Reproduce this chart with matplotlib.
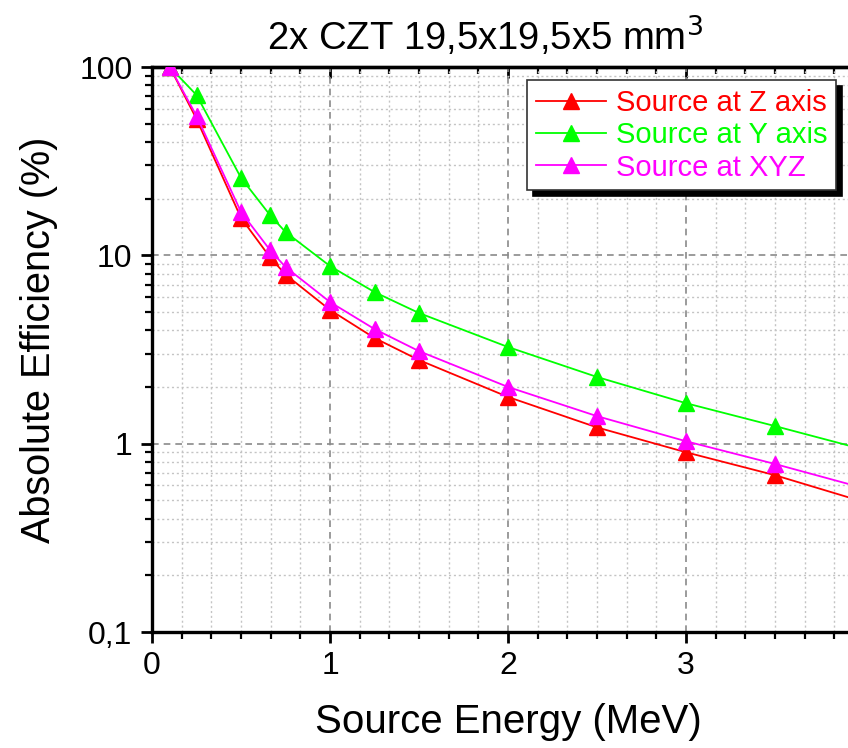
import matplotlib
matplotlib.use("Agg")
import matplotlib.pyplot as plt
from matplotlib.ticker import FixedLocator, MultipleLocator, NullFormatter, LogLocator
import numpy as np

energy = [0.1, 0.25, 0.5, 0.662, 0.75, 1.0, 1.25, 1.5, 2.0, 2.5, 3.0, 3.5, 4.0]
eff_z = [100, 53, 15.8, 9.8, 7.9, 5.13, 3.64, 2.78, 1.77, 1.22, 0.90, 0.68, 0.49]
eff_y = [100, 71, 25.8, 16.4, 13.3, 8.77, 6.38, 4.94, 3.26, 2.26, 1.64, 1.24, 0.93]
eff_xyz = [100, 55, 17.0, 10.7, 8.67, 5.65, 4.06, 3.10, 2.00, 1.40, 1.03, 0.78, 0.58]
series_labels = ["Source at Z axis", "Source at Y axis", "Source at XYZ"]
series_colors = ["#FF0000", "#00FF00", "#FF00FF"]
yticks = [0.1, 1, 10, 100]
ytick_labels = ["0,1", "1", "10", "100"]
xticks = [0, 1, 2, 3]
xtick_labels = ["0", "1", "2", "3"]

plt.rcParams['font.family'] = ['Liberation Sans', 'DejaVu Sans']

W, H = 848, 748
fig = plt.figure(figsize=(W / 100, H / 100), dpi=100)
left, right, top, bottom = 152, 848, 67, 632
ax = fig.add_axes([left / W, 1 - bottom / H, (right - left) / W, (bottom - top) / H])

for ys, lab, c in zip([eff_z, eff_y, eff_xyz], series_labels, series_colors):
    ax.plot(energy, ys, color=c, lw=1.3, marker='^', markersize=11,
            markerfacecolor=c, markeredgecolor=c, label=lab, zorder=3)

ax.set_yscale('log')
ax.set_ylim(0.1, 100)
ax.set_xlim(0, 3.91)

ax.yaxis.set_major_locator(FixedLocator(yticks))
ax.set_yticklabels(ytick_labels)
ax.yaxis.set_minor_locator(LogLocator(base=10, subs=np.arange(2, 10)))
ax.yaxis.set_minor_formatter(NullFormatter())
ax.xaxis.set_major_locator(FixedLocator(xticks))
ax.set_xticklabels(xtick_labels)
ax.xaxis.set_minor_locator(MultipleLocator(1 / 6))

ax.grid(which='major', color='#8a8a8a', linestyle=(0, (4, 3)), linewidth=1.2)
ax.grid(which='minor', color='#c4c4c4', linestyle=(0, (1.5, 2)), linewidth=1.0)
ax.set_axisbelow(True)

for s in ['left', 'bottom', 'top']:
    ax.spines[s].set_linewidth(2.4)
ax.spines['right'].set_visible(False)

ax.tick_params(which='major', direction='out', length=8, width=2, labelsize=23, pad=6)
ax.tick_params(which='minor', direction='out', length=5, width=1.6)

sec = ax.secondary_xaxis('top')
sec.xaxis.set_major_locator(FixedLocator(xticks))
sec.xaxis.set_minor_locator(MultipleLocator(1 / 6))
sec.tick_params(which='major', direction='in', length=8, width=2, labeltop=False)
sec.tick_params(which='minor', direction='in', length=5, width=1.6)
sec.spines['top'].set_linewidth(2.4)

ax.set_xlabel("Source Energy (MeV)", fontsize=29)
ax.xaxis.set_label_coords((508 - left) / (right - left), -(722 - bottom) / (bottom - top), transform=ax.transAxes)
ax.xaxis.label.set_va('center')
ax.set_ylabel("Absolute Efficiency (%)", fontsize=28.5)
ax.yaxis.set_label_coords(-(left - 39) / (right - left), (bottom - 340) / (bottom - top), transform=ax.transAxes)
ax.yaxis.label.set_va('center')

fig.text(485 / W, 1 - 37 / H, "2x CZT 19,5x19,5x5 mm$^3$", fontsize=27.5,
         ha='center', va='center')

leg = ax.legend(loc='upper left', bbox_to_anchor=(527 / W, 1 - 80 / H),
                bbox_transform=fig.transFigure, fontsize=21, numpoints=1,
                handlelength=2.4, handletextpad=0.35, borderpad=0.3,
                borderaxespad=0, labelspacing=0.15, fancybox=False, frameon=True,
                edgecolor='#333333', framealpha=1,
                shadow={'color': 'black', 'ox': 4, 'oy': -4, 'alpha': 1})
leg.get_frame().set_linewidth(1.2)
for txt, c in zip(leg.get_texts(), series_colors):
    txt.set_color(c)
for h in leg.legend_handles:
    h.set_markersize(11)

fig.savefig("out.png", dpi=100)
